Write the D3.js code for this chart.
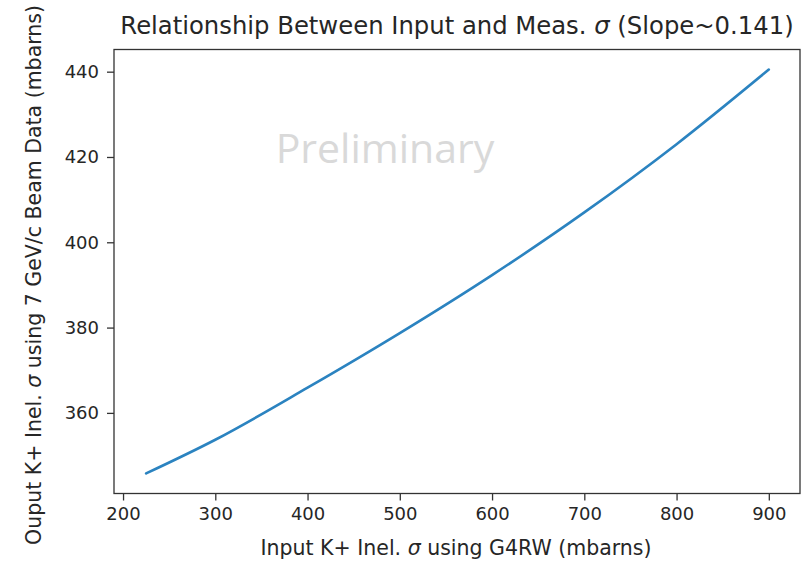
<!DOCTYPE html>
<html>
<head>
<meta charset="utf-8">
<script src="https://cdn.jsdelivr.net/npm/d3@7"></script>
<style>
  body { margin: 0; background: #fff; }
  svg text { font-family: "DejaVu Sans", sans-serif; fill: #262626; }
</style>
</head>
<body>
<div id="chart"></div>
<script>
var w = 808;
var h = 563;

// values
var inputXs = [225, 300, 400, 500, 600, 700, 800, 900];
var outputYs = [345.8, 353.7, 365.9, 378.7, 392.3, 407.0, 423.0, 440.5];
var xTicks = [200, 300, 400, 500, 600, 700, 800, 900];
var yTicks = [360, 380, 400, 420, 440];

var plotL = 114, plotR = 800, plotT = 49.5, plotB = 493.5;

var x = d3.scaleLinear().domain([190.2, 933.8]).range([plotL, plotR]);
var y = d3.scaleLinear().domain([341.1, 445.2]).range([plotB, plotT]);

var svg = d3.select("#chart")
            .append("svg")
            .attr("width", w)
            .attr("height", h);

var pts = inputXs.map(function(d, i) { return [d, outputYs[i]]; });

var line = d3.line()
             .x(function(d) { return x(d[0]); })
             .y(function(d) { return y(d[1]); })
             .curve(d3.curveMonotoneX);

svg.append("text")
   .attr("x", 385)
   .attr("y", 163)
   .attr("text-anchor", "middle")
   .style("font-family", "'Open Sans', sans-serif")
   .style("font-size", "41px")
   .style("fill", "#d9d9d9")
   .text("Preliminary");

svg.append("path")
   .attr("d", line(pts))
   .attr("fill", "none")
   .attr("stroke", "#2b83c0")
   .attr("stroke-width", 2.6)
   .attr("stroke-linecap", "round");

var xAxis = svg.append("g")
               .attr("transform", "translate(0," + plotB + ")")
               .call(d3.axisBottom(x).tickValues(xTicks).tickSize(7).tickPadding(7).tickSizeOuter(0));

var yAxis = svg.append("g")
               .attr("transform", "translate(" + plotL + ",0)")
               .call(d3.axisLeft(y).tickValues(yTicks).tickSize(7).tickPadding(8).tickSizeOuter(0));

[xAxis, yAxis].forEach(function(a) {
   a.select(".domain").remove();
   a.selectAll("line").attr("stroke", "#333").attr("stroke-width", 1.3);
   a.selectAll("text").style("font-size", "18px").style("font-family", "'DejaVu Sans', sans-serif").attr("fill", "#262626");
});

svg.append("rect")
   .attr("x", plotL)
   .attr("y", plotT)
   .attr("width", plotR - plotL)
   .attr("height", plotB - plotT)
   .attr("fill", "none")
   .attr("stroke", "#333")
   .attr("stroke-width", 1.3);

svg.append("text")
   .attr("x", (plotL + plotR) / 2)
   .attr("y", 34)
   .attr("text-anchor", "middle")
   .style("font-size", "24.3px")
   .html("Relationship Between Input and Meas. <tspan font-style='italic'>σ</tspan> (Slope~0.141)");

svg.append("text")
   .attr("x", 456)
   .attr("y", 555)
   .attr("text-anchor", "middle")
   .style("font-size", "20.5px")
   .html("Input K+ Inel. <tspan font-style='italic'>σ</tspan> using G4RW (mbarns)");

svg.append("text")
   .attr("transform", "translate(41," + 275 + ") rotate(-90)")
   .attr("text-anchor", "middle")
   .style("font-size", "20.5px")
   .html("Ouput K+ Inel. <tspan font-style='italic'>σ</tspan> using 7 GeV/c Beam Data (mbarns)");
</script>
</body>
</html>
